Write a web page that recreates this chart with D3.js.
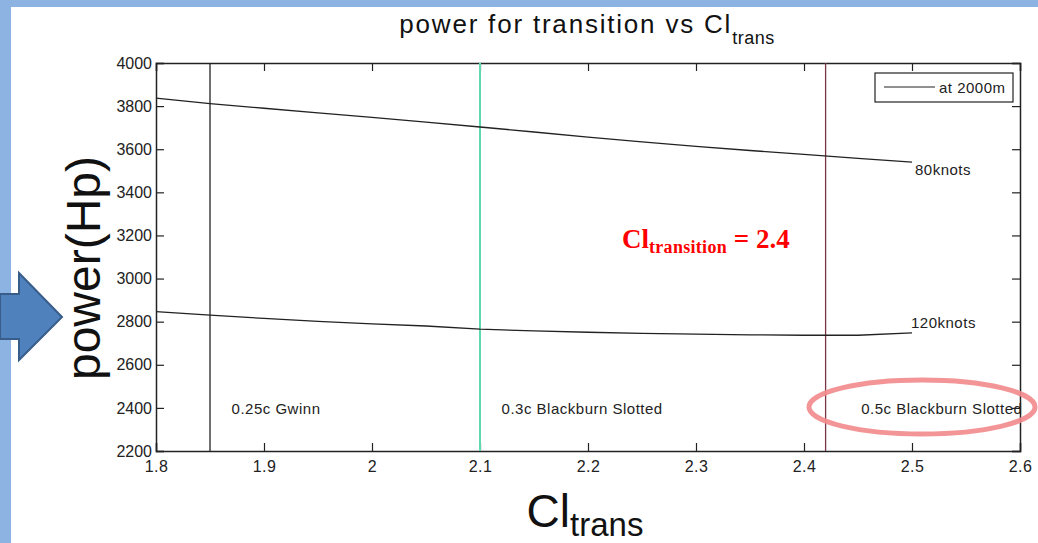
<!DOCTYPE html>
<html>
<head>
<meta charset="utf-8">
<script src="https://cdn.jsdelivr.net/npm/d3@7"></script>
<style>
  body { margin: 0; background: #fff; }
  svg { display: block; font-family: "Liberation Sans", Arial, sans-serif; }
</style>
</head>
<body>
<svg id="chart"></svg>
<script>
const width = 1038;
const height = 543;

// data
const clTrans = [1.8, 1.85, 1.9, 1.95, 2.0, 2.05, 2.1, 2.15, 2.2, 2.25, 2.3, 2.35, 2.4, 2.45, 2.5];
const power80 = [3837, 3812, 3790, 3769, 3748, 3726, 3703, 3680, 3656, 3634, 3613, 3594, 3576, 3558, 3540];
const power120 = [2847, 2830, 2815, 2801, 2790, 2780, 2765, 2757, 2751, 2746, 2742, 2739, 2737, 2737, 2748];
const seriesNames = ['80knots', '120knots'];
const flapPositions = [1.85, 2.1, 2.42];
const flapNames = ['0.25c Gwinn', '0.3c Blackburn Slotted', '0.5c Blackburn Slotted'];
const flapLabelX = [1.87, 2.12, 2.453];
const xTicks = [1.8, 1.9, 2, 2.1, 2.2, 2.3, 2.4, 2.5, 2.6];
const yTicks = [2200, 2400, 2600, 2800, 3000, 3200, 3400, 3600, 3800, 4000];

const margin = {left: 156, right: 18, top: 63, bottom: 92};

const svg = d3.select('#chart')
    .attr('width', width).attr('height', height);

// slide background + border
svg.append('rect').attr('width', width).attr('height', height).attr('fill', '#8db3e2');
svg.append('rect').attr('x', 11).attr('y', 7).attr('width', width - 11).attr('height', height - 7).attr('fill', '#fff');

const x = d3.scaleLinear().domain([1.8, 2.6]).range([margin.left, width - margin.right]);
const y = d3.scaleLinear().domain([2200, 4000]).range([height - margin.bottom, margin.top]);

const plot = svg.append('g');

// axes, MATLAB style box with inward ticks
function axisStyle(g) {
  g.select('.domain').style('stroke', '#222').style('stroke-width', 1.5);
  g.selectAll('.tick line').style('stroke', '#222').style('stroke-width', 1.2);
  g.selectAll('.tick text').style('font-size', '16px').style('fill', '#222')
      .style('font-family', '"Liberation Sans", Arial, sans-serif');
}

const xAxis = plot.append('g')
    .attr('transform', `translate(0,${y(2200)})`)
    .call(d3.axisBottom(x).tickValues(xTicks).tickSize(-8).tickFormat(d3.format('')))
    .call(axisStyle);
xAxis.selectAll('.tick text').attr('dy', null).attr('y', 21).style('letter-spacing', '0.5px');

plot.append('g')
    .attr('transform', `translate(0,${y(4000)})`)
    .call(d3.axisTop(x).tickValues(xTicks).tickSize(-8).tickFormat(''))
    .call(axisStyle);

plot.append('g')
    .attr('transform', `translate(${x(1.8)},0)`)
    .call(d3.axisLeft(y).tickValues(yTicks).tickSize(-8).tickPadding(4).tickFormat(d3.format('d')))
    .call(axisStyle);

plot.append('g')
    .attr('transform', `translate(${x(2.6)},0)`)
    .call(d3.axisRight(y).tickValues(yTicks).tickSize(-8).tickFormat(''))
    .call(axisStyle);

// vertical flap lines
const flapColors = ['#222', '#5fd8b4', '#7a3444'];
plot.selectAll('.flap')
    .data(flapPositions)
    .enter().append('line')
    .attr('x1', d => x(d)).attr('x2', d => x(d))
    .attr('y1', y(2200)).attr('y2', y(4000))
    .style('stroke', (d, i) => flapColors[i])
    .style('stroke-width', (d, i) => i === 1 ? 2 : 1.3);

// power curves
const line = d3.line().x(d => x(d[0])).y(d => y(d[1]));
const series = [power80, power120].map(vals => clTrans.map((c, i) => [c, vals[i]]));

plot.selectAll('.curve')
    .data(series)
    .enter().append('path')
    .attr('d', line)
    .style('fill', 'none')
    .style('stroke', '#222')
    .style('stroke-width', 1.3);

plot.selectAll('.curveLabel')
    .data(series)
    .enter().append('text')
    .attr('x', (d, i) => x(d[d.length - 1][0]) + (i === 0 ? 3 : -1))
    .attr('y', (d, i) => y(d[d.length - 1][1]) + (i === 0 ? 13 : -5))
    .style('font-size', '15px')
    .style('letter-spacing', '0.5px')
    .style('fill', '#222')
    .text((d, i) => seriesNames[i]);

plot.selectAll('.flapLabel')
    .data(flapNames)
    .enter().append('text')
    .attr('x', (d, i) => x(flapLabelX[i]))
    .attr('y', 414)
    .style('font-size', '15px')
    .style('letter-spacing', '0.5px')
    .style('fill', '#222')
    .text(d => d);

// legend
const legend = svg.append('g');
legend.append('rect')
    .attr('x', 875).attr('y', 73).attr('width', 138).attr('height', 29)
    .style('fill', '#fff').style('stroke', '#222').style('stroke-width', 1.2);
legend.append('line')
    .attr('x1', 884).attr('x2', 935).attr('y1', 87).attr('y2', 87)
    .style('stroke', '#222').style('stroke-width', 1.2);
legend.append('text')
    .attr('x', 939).attr('y', 93)
    .style('font-size', '15px').style('letter-spacing', '0.5px').style('fill', '#222')
    .text('at 2000m');

// title
const title = svg.append('text')
    .attr('x', 587).attr('y', 33)
    .attr('text-anchor', 'middle')
    .style('font-size', '26px').style('fill', '#111');
title.append('tspan').style('letter-spacing', '1.8px').text('power for transition vs Cl');
title.append('tspan').attr('dy', 11).style('font-size', '18px').style('letter-spacing', '0.5px').text('trans');

// y label
svg.append('text')
    .attr('transform', 'translate(100,268) rotate(-90)')
    .attr('text-anchor', 'middle')
    .style('font-size', '48px').style('fill', '#111')
    .text('power(Hp)');

// x label
const xlab = svg.append('text')
    .attr('x', 585).attr('y', 527)
    .attr('text-anchor', 'middle')
    .style('fill', '#111');
xlab.append('tspan').style('font-size', '46px').text('Cl');
xlab.append('tspan').attr('dy', 9).style('font-size', '33px').text('trans');

// red annotation
const note = svg.append('text')
    .attr('x', 622).attr('y', 248)
    .style('font-family', '"Liberation Serif", "Times New Roman", serif')
    .style('font-weight', 'bold')
    .style('fill', '#f00');
note.append('tspan').style('font-size', '27px').text('Cl');
note.append('tspan').attr('dy', 5).style('font-size', '18px').style('letter-spacing', '0.3px').text('transition');
note.append('tspan').attr('dy', -5).style('font-size', '27px').text(' = 2.4');

// highlight ellipse
svg.append('ellipse')
    .attr('cx', 922).attr('cy', 407).attr('rx', 113).attr('ry', 27)
    .style('fill', 'none')
    .style('stroke', '#f28a8c')
    .style('stroke-width', 5)
    .style('opacity', 0.9);

// block arrow
const arrow = d3.path();
arrow.moveTo(0, 294);
arrow.lineTo(19, 294);
arrow.lineTo(19, 273);
arrow.lineTo(62, 317);
arrow.lineTo(19, 360);
arrow.lineTo(19, 339);
arrow.lineTo(0, 339);
arrow.closePath();
svg.append('path')
    .attr('d', arrow.toString())
    .style('fill', '#4f81bd')
    .style('stroke', '#385d8a')
    .style('stroke-width', 2);
</script>
</body>
</html>
